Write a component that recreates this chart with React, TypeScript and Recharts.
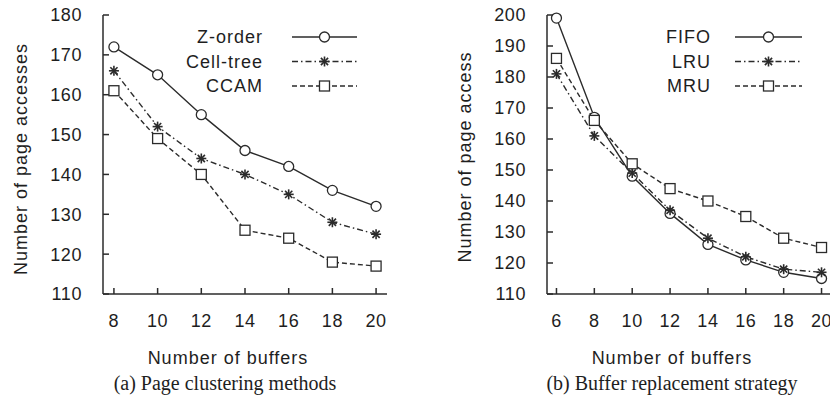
import React from 'react';
import { LineChart, Line, XAxis, YAxis, Legend } from 'recharts';

// (a) page clustering methods
const buffersA = [8, 10, 12, 14, 16, 18, 20];
const zOrder = [172, 165, 155, 146, 142, 136, 132];
const cellTree = [166, 152, 144, 140, 135, 128, 125];
const ccam = [161, 149, 140, 126, 124, 118, 117];
const yTicksA = [110, 120, 130, 140, 150, 160, 170, 180];

// (b) buffer replacement strategy
const buffersB = [6, 8, 10, 12, 14, 16, 18, 20];
const fifo = [199, 167, 148, 136, 126, 121, 117, 115];
const lru = [181, 161, 149, 137, 128, 122, 118, 117];
const mru = [186, 166, 152, 144, 140, 135, 128, 125];
const yTicksB = [110, 120, 130, 140, 150, 160, 170, 180, 190, 200];

const dataA = buffersA.map((b, i) => ({ buffers: b, zOrder: zOrder[i], cellTree: cellTree[i], ccam: ccam[i] }));
const dataB = buffersB.map((b, i) => ({ buffers: b, fifo: fifo[i], lru: lru[i], mru: mru[i] }));

const INK = '#2b2b2b';
const TEXT = '#1e1e1e';
const SANS = '"Liberation Sans", Arial, Helvetica, sans-serif';
const SERIF = '"Liberation Serif", "Times New Roman", serif';

type Kind = 'circle' | 'star' | 'square';

function Marker({ kind, cx, cy }: { kind: Kind; cx: number; cy: number }) {
  if (kind === 'circle') return <circle cx={cx} cy={cy} r={5} fill="#fff" stroke={INK} strokeWidth={1.3} />;
  if (kind === 'square') return <rect x={cx - 5} y={cy - 5} width={10} height={10} fill="#fff" stroke={INK} strokeWidth={1.3} />;
  return (
    <g stroke={INK} strokeWidth={1.6}>
      <line x1={cx - 5} y1={cy} x2={cx + 5} y2={cy} />
      <line x1={cx} y1={cy - 5} x2={cx} y2={cy + 5} />
      <line x1={cx - 3.6} y1={cy - 3.6} x2={cx + 3.6} y2={cy + 3.6} />
      <line x1={cx - 3.6} y1={cy + 3.6} x2={cx + 3.6} y2={cy - 3.6} />
    </g>
  );
}

const dotOf = (kind: Kind, id: string) => (p: any) => <Marker key={`${id}-${p.index}`} kind={kind} cx={p.cx} cy={p.cy} />;

interface Series { key: string; name: string; kind: Kind; dash?: string }

const seriesA: Series[] = [
  { key: 'zOrder', name: 'Z-order', kind: 'circle' },
  { key: 'cellTree', name: 'Cell-tree', kind: 'star', dash: '6 3 1.5 3' },
  { key: 'ccam', name: 'CCAM', kind: 'square', dash: '5 3' },
];
const seriesB: Series[] = [
  { key: 'fifo', name: 'FIFO', kind: 'circle' },
  { key: 'lru', name: 'LRU', kind: 'star', dash: '6 3 1.5 3' },
  { key: 'mru', name: 'MRU', kind: 'square', dash: '5 3' },
];

function LegendBox({ items, lineFrom, lineTo }: { items: Series[]; lineFrom: number; lineTo: number }) {
  const textRight = 120;
  return (
    <svg width={textRight + lineTo + 10} height={78}>
      {items.map((it, i) => {
        const y = 12 + i * 24.5;
        const mid = textRight + (lineFrom + lineTo) / 2;
        return (
          <g key={it.key}>
            <text x={textRight} y={y} dy="0.35em" textAnchor="end" fontFamily={SANS} fontSize={18} letterSpacing={1} fill={TEXT}>
              {it.name}
            </text>
            <line x1={textRight + lineFrom} x2={textRight + lineTo} y1={y} y2={y} stroke={INK} strokeWidth={1.5} strokeDasharray={it.dash} />
            <Marker kind={it.kind} cx={mid} cy={y} />
          </g>
        );
      })}
    </svg>
  );
}

const tickStyle = { fontFamily: SANS, fontSize: 18, fill: TEXT, letterSpacing: 0.6 };

function Panel({ data, series, xDomain, xTicks, yDomain, yTicks, margin, width, legendLeft, lineFrom, lineTo }: any) {
  return (
    <LineChart width={width} height={408} data={data} margin={margin}>
      <XAxis
        dataKey="buffers" type="number" domain={xDomain} ticks={xTicks} height={30}
        stroke={INK} strokeWidth={1.5} tickSize={-6} tickMargin={26} tick={tickStyle}
      />
      <XAxis xAxisId="top" dataKey="buffers" type="number" orientation="top" domain={xDomain} ticks={xTicks} height={0}
        stroke={INK} strokeWidth={1.5} tickSize={-6} tick={false} />
      <YAxis
        type="number" domain={yDomain} ticks={yTicks} width={60}
        stroke={INK} strokeWidth={1.5} tickSize={-6} tickMargin={27} tick={tickStyle}
      />
      <YAxis yAxisId="right" orientation="right" type="number" domain={yDomain} ticks={yTicks} width={0}
        stroke={INK} strokeWidth={1.5} tickSize={-6} tick={false} />
      <Legend
        layout="vertical" align="center" verticalAlign="middle"
        wrapperStyle={{ top: 25, left: legendLeft, width: 'auto', height: 'auto' }}
        content={() => <LegendBox items={series} lineFrom={lineFrom} lineTo={lineTo} />}
      />
      {series.map((s: Series) => (
        <Line
          key={s.key} dataKey={s.key} name={s.name} type="linear" stroke={INK} strokeWidth={1.4}
          strokeDasharray={s.dash} dot={dotOf(s.kind, s.key)} activeDot={false} isAnimationActive={false}
        />
      ))}
    </LineChart>
  );
}

export default function App() {
  return (
    <div style={{ position: 'absolute', left: 0, top: 0, width: 830, height: 408, overflow: 'hidden', background: '#fff' }}>
      <div style={{ position: 'absolute', left: 0, top: 0 }}>
        <Panel
          data={dataA} series={seriesA} xDomain={[7.5, 20.5]} xTicks={buffersA} yDomain={[110, 180]} yTicks={yTicksA}
          width={415} margin={{ top: 15, right: 28, bottom: 84, left: 43 }} legendLeft={143} lineFrom={29} lineTo={94}
        />
      </div>
      <div style={{ position: 'absolute', left: 415, top: 0 }}>
        <Panel
          data={dataB} series={seriesB} xDomain={[5.5, 20.5]} xTicks={buffersB} yDomain={[110, 200]} yTicks={yTicksB}
          width={420} margin={{ top: 15, right: 4, bottom: 84, left: 72 }} legendLeft={176} lineFrom={24} lineTo={91}
        />
      </div>
      <svg width={830} height={408} style={{ position: 'absolute', left: 0, top: 0, pointerEvents: 'none' }}>
        <g fontFamily={SANS} fontSize={18} letterSpacing={1} fill={TEXT} textAnchor="middle">
          <text x={228} y={364}>Number of buffers</text>
          <text x={672} y={364}>Number of buffers</text>
          <text transform="translate(27,159) rotate(-90)">Number of page accesses</text>
          <text transform="translate(471,157) rotate(-90)">Number of page access</text>
        </g>
        <g fontFamily={SERIF} fontSize={20} fill={TEXT} textAnchor="middle">
          <text x={225} y={390}>(a) Page clustering methods</text>
          <text x={672} y={390}>(b) Buffer replacement strategy</text>
        </g>
      </svg>
    </div>
  );
}
